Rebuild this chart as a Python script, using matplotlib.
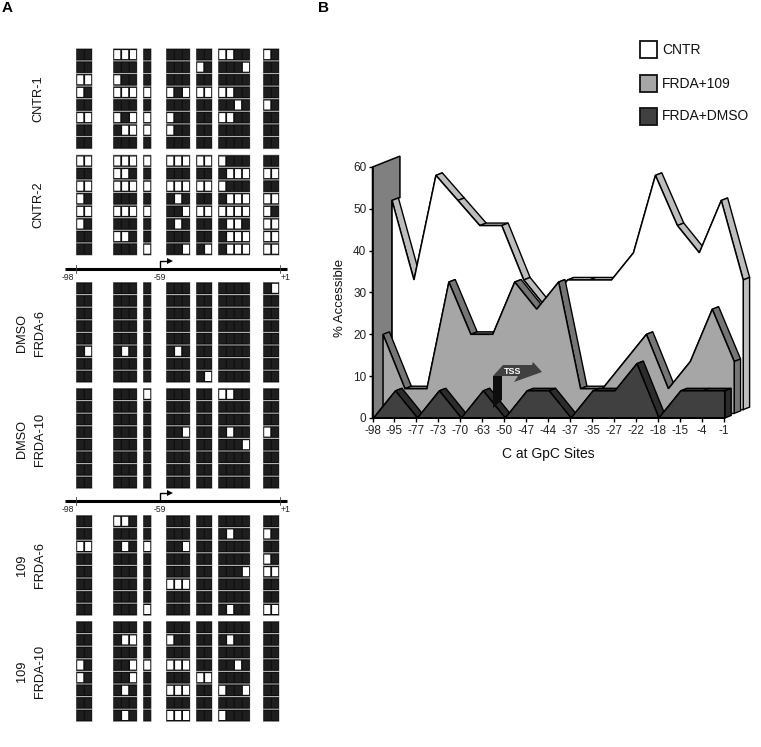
import matplotlib
matplotlib.use("Agg")
import matplotlib.pyplot as plt
from matplotlib.patches import Polygon, Rectangle

plt.rcParams["font.family"] = ["Liberation Sans", "DejaVu Sans"]

W, H = 761, 747

# -------------------- PANEL B DATA --------------------
sites = ["-98", "-95", "-77", "-73", "-70", "-63", "-50", "-47", "-44",
         "-37", "-35", "-27", "-22", "-18", "-15", "-4", "-1"]
cntr = [52, 33, 58, 52, 46, 46, 33, 26.5, 33, 33, 33, 39.5, 58, 46, 39.5, 52, 33]
frda_109 = [20, 7, 7, 32.5, 20, 20, 32.5, 26, 32.5, 7, 7, 13.5, 20, 7, 13.5, 26, 13.5]
frda_dmso = [0, 6.5, 0, 6.5, 0, 6.5, 0, 6.5, 6.5, 0, 6.5, 6.5, 13, 0, 6.5, 6.5, 6.5]
wall_value = 60

# -------------------- PANEL A DATA --------------------
# one string per read, groups of GpC sites split by spaces, 1 = open (white)
empty = "00 000 0 000 00 0000 00"
cntr_1 = ["00 111 0 000 00 1100 10", "00 000 0 000 10 0001 00",
          "11 100 0 000 00 0000 00", "10 111 1 101 11 1100 00",
          "00 000 0 000 00 0010 10", "11 101 1 100 00 1100 00",
          "00 011 1 100 00 0000 00", empty]
cntr_2 = ["11 111 1 111 11 1000 00", "00 110 0 000 00 0111 11",
          "11 111 1 111 11 1000 00", "10 000 0 010 00 0111 11",
          "11 111 1 001 11 1111 10", "10 000 0 010 00 0110 11",
          "00 110 0 000 00 0111 11", "00 000 1 001 01 0111 11"]
dmso_6 = ["00 000 0 000 00 0000 01", empty, empty, empty, empty,
          "01 010 0 010 00 0000 00", empty, "00 000 0 000 01 0000 00"]
dmso_10 = ["00 000 1 000 00 1100 00", empty, empty,
           "00 000 0 001 00 0100 10", "00 000 0 000 00 0001 00",
           empty, empty, empty]
t109_6 = ["00 110 0 000 00 0000 00", "00 000 0 000 00 0100 10",
          "11 010 1 001 00 0000 00", "00 000 0 000 00 0000 10",
          "00 000 0 000 00 0001 11", "00 000 0 111 00 0000 00",
          empty, "00 000 1 000 00 0100 11"]
t109_10 = [empty, "00 011 0 100 00 0100 00", empty,
           "10 001 1 111 00 0010 00", "10 001 0 000 11 0000 00",
           "00 010 0 111 00 1001 00", empty, "00 010 0 111 00 1000 00"]

blocks = [cntr_1, cntr_2, dmso_6, dmso_10, t109_6, t109_10]
block_tops = [48.3, 154.7, 282, 388, 515, 621]
group_lefts = [76, 113, 143, 166, 196, 218, 263]
cell_w = 7.9
row_h = 12.6

fig = plt.figure(figsize=(W / 100, H / 100), dpi=100)

# full-figure axes in pixels, used for panel A and the free labels
ax_a = fig.add_axes([0, 0, 1, 1])
ax_a.set_xlim(0, W)
ax_a.set_ylim(H, 0)
ax_a.axis("off")


def draw_block(rows, top):
    for r, row in enumerate(rows):
        y = top + r * row_h
        for left, group in zip(group_lefts, row.split()):
            # dark backing of the whole group, grey gap below each read
            ax_a.add_patch(Rectangle((left, y), cell_w * len(group) + 0.6, row_h,
                                     fc="#9a9a9a", ec="none", snap=False))
            ax_a.add_patch(Rectangle((left + 0.4, y + 0.6), cell_w * len(group) - 0.2, row_h - 1.2,
                                     fc="#0e0e0e", ec="none", snap=False))
            for c, val in enumerate(group):
                x = left + c * cell_w
                if val == "1":
                    ax_a.add_patch(Rectangle((x + 1.2, y + 1.8), cell_w - 1.8, row_h - 3.6,
                                             fc="white", ec="none", snap=False))
                else:
                    ax_a.add_patch(Rectangle((x + 1.0, y + 1.6), cell_w - 1.2, row_h - 3.2,
                                             fc="#1e1e1e", ec="none", snap=False))


for rows, top in zip(blocks, block_tops):
    draw_block(rows, top)


def draw_map_line(y):
    ax_a.plot([65, 287], [y, y], color="black", lw=2.2, solid_capstyle="butt")
    for x in (76, 280):
        ax_a.plot([x, x], [y - 4, y + 4], color="#444444", lw=0.6)
    ax_a.plot([160, 160, 166], [y, y - 8.5, y - 8.5], color="black", lw=1.0)
    ax_a.plot([170], [y - 8.5], marker=">", ms=4, color="black", mew=0)
    for x, label in ((68, "-98"), (160, "-59"), (285, "+1")):
        ax_a.text(x, y + 8.5, label, fontsize=6.2, ha="center", va="center", color="#222222")


draw_map_line(269)
draw_map_line(501)

ax_a.text(2, 8, "A", fontsize=11, fontweight="bold", va="center")
ax_a.text(318, 8, "B", fontsize=11, fontweight="bold", va="center")

side_labels = [(38, 99, "CNTR-1"), (38, 205, "CNTR-2"),
               (22, 333, "DMSO"), (40, 333, "FRDA-6"),
               (22, 439, "DMSO"), (40, 439, "FRDA-10"),
               (22, 565, "109"), (40, 565, "FRDA-6"),
               (22, 671, "109"), (40, 671, "FRDA-10")]
for x, y, label in side_labels:
    ax_a.text(x, y, label, rotation=90, fontsize=9.2, ha="center", va="center", color="#111111")

# legend
legend_items = [("CNTR", "white", 41), ("FRDA+109", "#a6a6a6", 75), ("FRDA+DMSO", "#404040", 108)]
for label, color, y in legend_items:
    ax_a.add_patch(Rectangle((640, y), 17, 17, fc=color, ec="#111111", lw=1.3))
    ax_a.text(662, y + 8.5, label, fontsize=10, va="center", color="#111111")

# -------------------- PANEL B --------------------
x0_px, step_px = 372.5, 21.95
ax_b = fig.add_axes([x0_px / W, 1 - 418 / H, step_px * 16 / W, 251 / H])
ax_b.set_xlim(0, 16)
ax_b.set_ylim(0, 60)
ax_b.patch.set_alpha(0)
for side in ("top", "right"):
    ax_b.spines[side].set_visible(False)
ax_b.spines["left"].set_linewidth(1.2)
ax_b.spines["bottom"].set_linewidth(1.4)

ribbon_dx, ribbon_dy = 0.29, 0.6


def draw_series(values, shift, base_end, fill, ribbon):
    xs = [i + shift for i in range(len(values))]
    for i in range(len(values) - 1):
        quad = [(xs[i], values[i]), (xs[i + 1], values[i + 1]),
                (xs[i + 1] + ribbon_dx, values[i + 1] + ribbon_dy),
                (xs[i] + ribbon_dx, values[i] + ribbon_dy)]
        ax_b.add_patch(Polygon(quad, fc=ribbon, ec="black", lw=1.0, clip_on=False))
    side = [(xs[-1], base_end), (xs[-1], values[-1]),
            (xs[-1] + ribbon_dx, values[-1] + ribbon_dy),
            (xs[-1] + ribbon_dx, base_end + ribbon_dy)]
    ax_b.add_patch(Polygon(side, fc=ribbon, ec="black", lw=1.0, clip_on=False))
    outline = [(xs[0], 0)] + list(zip(xs, values)) + [(xs[-1], base_end)]
    ax_b.add_patch(Polygon(outline, fc=fill, ec="black", lw=1.1, joinstyle="miter", clip_on=False))


cntr_shift, t109_shift, dmso_shift = 0.89, 0.48, 0.05

# wall standing behind the first site
wall = [(0, 0), (0, wall_value), (1.25, wall_value + 2.6), (1.25, cntr[0] + 0.7),
        (cntr_shift, cntr[0]), (cntr_shift, 0)]
ax_b.add_patch(Polygon(wall, fc="#808080", ec="black", lw=1.1, clip_on=False))

draw_series(cntr, cntr_shift, 2.0, "white", "#bdbdbd")
draw_series(frda_109, t109_shift, 1.1, "#a6a6a6", "#757575")
draw_series(frda_dmso, dmso_shift, 0, "#404040", "#2c2c2c")

ax_b.set_xticks(range(len(sites)))
ax_b.set_xticklabels(sites, fontsize=8.5, color="#222222")
ax_b.set_yticks(range(0, 61, 10))
ax_b.tick_params(axis="y", labelsize=8.5, length=3, width=1, pad=1.5, labelcolor="#222222")
ax_b.tick_params(axis="x", length=3, width=1, pad=2)
ax_b.set_xlabel("C at GpC Sites", fontsize=10, labelpad=7, color="#111111")
ax_b.set_ylabel("% Accessible", fontsize=9.5, color="#111111")
ax_b.yaxis.set_label_coords(-0.075, 0.478)

# TSS arrow drawn over the chart
arrow_top = [(493, 376), (503, 365), (532, 365), (533, 362), (542, 372), (514, 382), (518, 376)]
tss_side = [(493, 376), (502, 376), (502, 400), (493, 408)]
overlay = fig.add_axes([0, 0, 1, 1])
overlay.set_xlim(0, W)
overlay.set_ylim(H, 0)
overlay.axis("off")
overlay.add_patch(Polygon(arrow_top, fc="#404040", ec="none"))
overlay.add_patch(Polygon(tss_side, fc="#0d0d0d", ec="none"))
overlay.text(513, 371, "TSS", color="white", fontsize=6.5, fontweight="bold", ha="center", va="center")

fig.savefig("out.png", dpi=100)
